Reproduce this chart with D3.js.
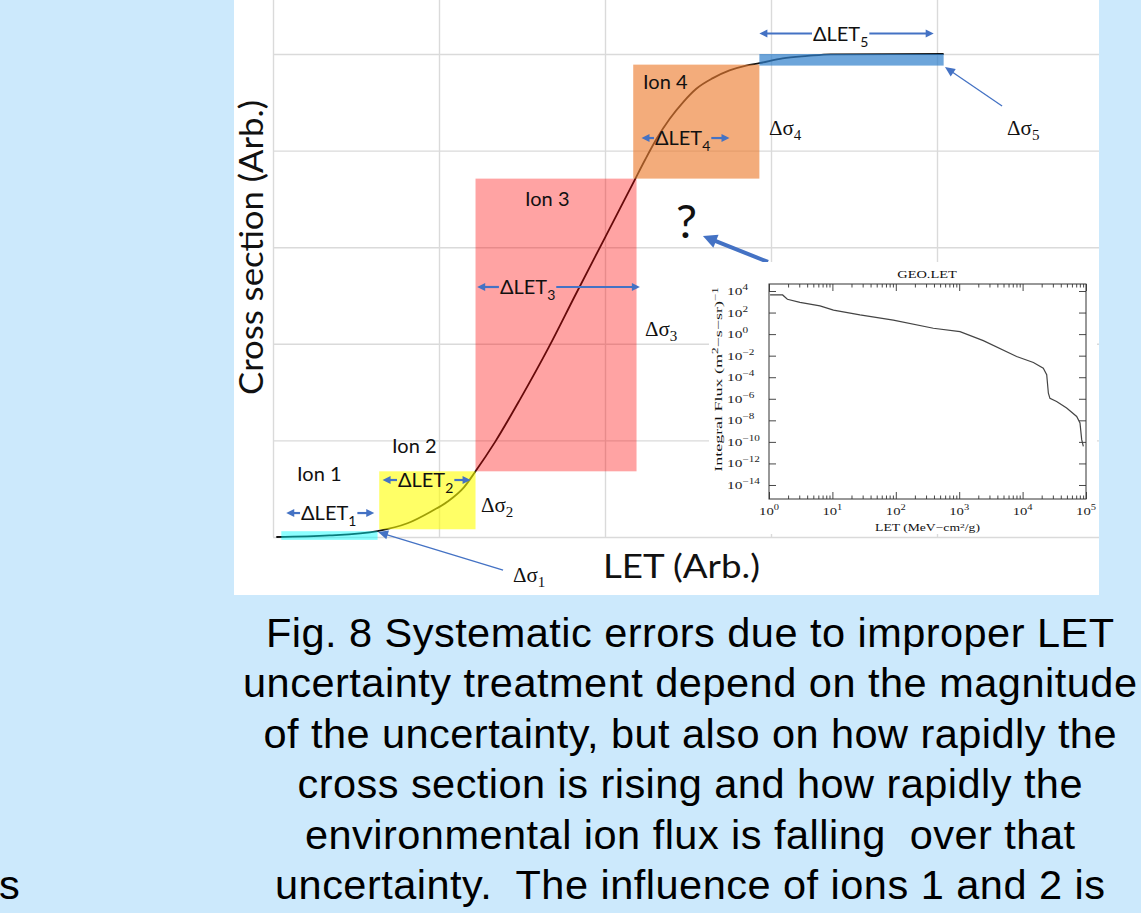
<!DOCTYPE html>
<html>
<head>
<meta charset="utf-8">
<script src="https://cdn.jsdelivr.net/npm/d3@7"></script>
<style>
  html, body { margin: 0; padding: 0; background: #cce9fc; }
  svg { display: block; }
  text { white-space: pre; }
</style>
</head>
<body>
<svg id="fig" width="1141" height="913"></svg>
<script>
// ---------------- data ----------------
// Idealised cross-section vs LET curve (arbitrary units)
const curveLET   = [0.02, 0.34, 0.63, 0.81, 0.95, 1.05, 1.15, 1.22, 1.34, 1.49, 1.66, 1.82, 2.00, 2.18, 2.24, 2.31, 2.39, 2.47, 2.55, 2.65, 2.75, 2.85, 2.93, 3.07, 3.22, 3.36, 4.04];
const curveSigma = [0.00, 0.016, 0.062, 0.142, 0.262, 0.365, 0.514, 0.68, 0.99, 1.43, 1.96, 2.50, 3.10, 3.70, 3.90, 4.12, 4.33, 4.50, 4.64, 4.75, 4.83, 4.88, 4.905, 4.955, 4.98, 4.997, 5.00];

// LET uncertainty band of each ion and the cross-section spread it produces
const bandLETLo   = [0.05, 0.64, 1.22, 2.17, 2.93];
const bandLETHi   = [0.63, 1.22, 2.19, 2.93, 4.04];
const bandSigmaLo = [-0.03, 0.08, 0.68, 3.71, 4.88];
const bandSigmaHi = [0.06, 0.68, 3.71, 4.89, 5.00];

// Extent of each ΔLET arrow
const dLETLo = [0.08, 0.66, 1.23, 2.22, 2.93];
const dLETHi = [0.61, 1.19, 2.21, 2.75, 3.98];

const ionNames = ["Ion 1", "Ion 2", "Ion 3", "Ion 4"];
const gridLET   = [0, 1, 2, 3, 4];
const gridSigma = [0, 1, 2, 3, 4, 5];

// GEO integral LET spectrum (inset)
const geoLET  = [1.04, 1.64, 1.95, 3.08, 6.37, 10.4, 27.2, 91.4, 391, 1030, 2400, 8050, 14800, 21200, 24000, 25500, 27000, 34400, 49500, 71300, 80400, 85500, 90800];
const geoFlux = [4.3e3, 4.3e3, 1.7e3, 8.9e2, 4.1e2, 1.7e2, 6.0e1, 2.0e1, 3.5e0, 1.7e0, 2.5e-1, 8.3e-3, 2.3e-3, 6.9e-4, 1.7e-4, 3.3e-6, 1.1e-6, 5.6e-7, 1.4e-7, 2.3e-8, 5.6e-9, 1.6e-10, 3.8e-11];
const geoTickExpX = [0, 1, 2, 3, 4, 5];
const geoTickExpY = [4, 2, 0, -2, -4, -6, -8, -10, -12, -14];

const captionLines = [
  "Fig. 8 Systematic errors due to improper LET",
  "uncertainty treatment depend on the magnitude",
  "of the uncertainty, but also on how rapidly the",
  "cross section is rising and how rapidly the",
  "environmental ion flux is falling  over that",
  "uncertainty.  The influence of ions 1 and 2 is"
];

// ---------------- styles ----------------
const bandFill    = ["#00ffff", "#ffff00", "#ff0000", "#ed7d31", "#2f7fcb"];
const bandOpacity = [0.45, 0.6, 0.36, 0.64, 0.7];
const BLUE = "#4472c4";
const SANS = "Lato, 'Open Sans', sans-serif";
const SERIF = "'Liberation Serif', 'DejaVu Serif', serif";

const W = 1141, H = 913;
const svg = d3.select("#fig");

svg.append("rect").attr("width", W).attr("height", H).attr("fill", "#cce9fc");
svg.append("rect").attr("x", 234).attr("y", 0).attr("width", 865).attr("height", 595).attr("fill", "#ffffff");

// ---------------- main chart ----------------
const x = d3.scaleLinear().domain([0, 4]).range([273, 937]);
const y = d3.scaleLinear().domain([0, 5]).range([537, 54]);

const plot = svg.append("g");

const gx = plot.append("g").attr("transform", `translate(0,${y(0)})`)
  .call(d3.axisBottom(x).tickValues(gridLET).tickSize(-y(0)).tickFormat(""));
gx.select(".domain").remove();
gx.selectAll("line").attr("stroke", "#dadada").attr("stroke-width", 1.4);

const gy = plot.append("g").attr("transform", `translate(${x(0)},0)`)
  .call(d3.axisLeft(y).tickValues(gridSigma).tickSize(-(1099 - x(0))).tickFormat(""));
gy.select(".domain").remove();
gy.selectAll("line").attr("stroke", "#dadada").attr("stroke-width", 1.4);

// cross-section curve
const line = d3.line().x(d => x(d[0])).y(d => y(d[1])).curve(d3.curveMonotoneX);
plot.append("path")
  .datum(d3.zip(curveLET, curveSigma))
  .attr("d", line)
  .attr("fill", "none")
  .attr("stroke", "#111")
  .attr("stroke-width", 1.8);

// uncertainty bands (semi-transparent, on top of the curve)
plot.selectAll("rect.band")
  .data(d3.range(bandLETLo.length))
  .join("rect")
  .attr("class", "band")
  .attr("x", i => x(bandLETLo[i]))
  .attr("width", i => x(bandLETHi[i]) - x(bandLETLo[i]))
  .attr("y", i => y(bandSigmaHi[i]))
  .attr("height", i => y(bandSigmaLo[i]) - y(bandSigmaHi[i]))
  .attr("fill", i => bandFill[i])
  .attr("fill-opacity", i => bandOpacity[i]);

// ---------------- arrows ----------------
function head(g, tx, ty, fx, fy, len, half, color) {
  const a = Math.atan2(ty - fy, tx - fx);
  const bx = tx - len * Math.cos(a), by = ty - len * Math.sin(a);
  const px = -Math.sin(a) * half, py = Math.cos(a) * half;
  g.append("path")
    .attr("d", `M${tx},${ty}L${bx + px},${by + py}L${bx - px},${by - py}Z`)
    .attr("fill", color);
}
function arrow(g, x1, y1, x2, y2, w, len, half, color) {
  const a = Math.atan2(y2 - y1, x2 - x1);
  g.append("line")
    .attr("x1", x1).attr("y1", y1)
    .attr("x2", x2 - len * 0.7 * Math.cos(a)).attr("y2", y2 - len * 0.7 * Math.sin(a))
    .attr("stroke", color).attr("stroke-width", w);
  head(g, x2, y2, x1, y1, len, half, color);
}

const ann = svg.append("g");

// ΔLET labels with split arrows
const dLETTextLET  = [0.169, 0.753, 1.367, 2.301, 3.253];
const dLETArrowSig = [0.248, 0.590, 2.588, 4.130, 5.212];
d3.range(5).forEach(i => {
  const ya = y(dLETArrowSig[i]);
  const t = ann.append("text")
    .attr("x", x(dLETTextLET[i])).attr("y", ya + 7)
    .attr("font-family", SANS).attr("font-size", 20).attr("fill", "#111");
  t.append("tspan").text("\u0394LET");
  t.append("tspan").attr("dy", 6).attr("font-size", 14).text(String(i + 1));
  const bb = t.node().getBBox();
  arrow(ann, bb.x - 1, ya, x(dLETLo[i]), ya, 2.2, 8, 4, BLUE);
  arrow(ann, bb.x + bb.width + 1, ya, x(dLETHi[i]), ya, 2.2, 8, 4, BLUE);
});

// Ion labels
const ionLabelLET = [0.145, 0.717, 1.518, 2.229];
const ionLabelSig = [0.580, 0.870, 3.427, 4.638];
ionNames.forEach((n, i) => {
  ann.append("text")
    .attr("x", x(ionLabelLET[i])).attr("y", y(ionLabelSig[i]))
    .attr("font-family", SANS).attr("font-size", 20).attr("fill", "#111")
    .text(n);
});

// Δσ labels
const dSigLET = [1.446, 1.253, 2.241, 2.988, 4.422];
const dSigSig = [-0.466, 0.259, 2.081, 4.161, 4.161];
d3.range(5).forEach(i => {
  const t = ann.append("text")
    .attr("x", x(dSigLET[i])).attr("y", y(dSigSig[i]))
    .attr("font-family", SERIF).attr("font-size", 21).attr("fill", "#111");
  t.append("tspan").text("\u0394\u03c3");
  t.append("tspan").attr("dy", 5).attr("font-size", 15).text(String(i + 1));
});

// leader lines to Δσ1 and Δσ5 bands
arrow(ann, x(1.386), y(-0.342), x(0.633), y(0.052), 1.3, 10, 4.5, BLUE);
arrow(ann, x(4.392), y(4.462), x(4.048), y(4.865), 1.3, 10, 4.5, BLUE);

// question mark with thick arrow
ann.append("text")
  .attr("x", x(2.428)).attr("y", y(3.106) + 1)
  .attr("font-family", SANS).attr("font-size", 47).attr("fill", "#111")
  .text("?");
arrow(ann, x(2.982), y(2.847), x(2.590), y(3.116), 4, 14, 7, BLUE);

// axis titles
function fitted(parent, tx, ty, rot, str, font, size, width, anchor) {
  const g = parent.append("g").attr("transform", `translate(${tx},${ty}) rotate(${rot})`);
  const t = g.append("text").attr("font-family", font).attr("font-size", size)
    .attr("text-anchor", anchor || "middle").attr("fill", "#111");
  if (typeof str === "function") str(t); else t.text(str);
  const w = t.node().getBBox().width;
  t.attr("transform", `scale(${width / w},1)`);
  return g;
}
fitted(ann, 263, 247.5, -90, "Cross section (Arb.)", SANS, 33, 295);
fitted(ann, 681.5, 578, 0, "LET (Arb.)", SANS, 32, 157);

// ---------------- inset: GEO LET spectrum ----------------
const inset = svg.append("g");
inset.append("rect").attr("x", 709).attr("y", 262).attr("width", 388).attr("height", 272).attr("fill", "#fff");

const ix = d3.scaleLog().domain([1, 1e5]).range([769, 1086]);
const iy = d3.scaleLog().domain([Math.pow(10, -15.3), Math.pow(10, 4.65)]).range([499, 284]);

const minorX = [];
geoTickExpX.slice(0, -1).forEach(k => { for (let m = 2; m <= 9; m++) minorX.push(m * Math.pow(10, k)); });
const majorX = geoTickExpX.map(k => Math.pow(10, k));
const majorY = geoTickExpY.map(k => Math.pow(10, k));

function ticks(axisGen, tr, vals, size) {
  const g = inset.append("g").attr("transform", tr)
    .call(axisGen.tickValues(vals).tickSize(size).tickFormat(""));
  g.select(".domain").remove();
  g.selectAll("line").attr("stroke", "#333").attr("stroke-width", 0.9);
}
ticks(d3.axisBottom(ix), "translate(0,499)", majorX, -7);
ticks(d3.axisBottom(ix), "translate(0,499)", minorX, -3.5);
ticks(d3.axisTop(ix), "translate(0,284)", majorX, -7);
ticks(d3.axisTop(ix), "translate(0,284)", minorX, -3.5);
ticks(d3.axisLeft(iy), "translate(769,0)", majorY, -7);
ticks(d3.axisRight(iy), "translate(1086,0)", majorY, -7);

inset.append("rect").attr("x", 769).attr("y", 284).attr("width", 1086 - 769).attr("height", 499 - 284)
  .attr("fill", "none").attr("stroke", "#333").attr("stroke-width", 1);

inset.append("path")
  .datum(d3.zip(geoLET, geoFlux))
  .attr("d", d3.line().x(d => ix(d[0])).y(d => iy(d[1])))
  .attr("fill", "none").attr("stroke", "#444").attr("stroke-width", 1.2);

function pow10(t, e, sup) {
  t.append("tspan").text("10");
  t.append("tspan").attr("dy", -5).attr("font-size", sup).text(e < 0 ? "\u2212" + (-e) : String(e));
}
geoTickExpX.forEach(e => {
  const g = inset.append("g").attr("transform", `translate(${ix(Math.pow(10, e))},515)`);
  const t = g.append("text").attr("font-family", SERIF).attr("font-size", 10.5).attr("text-anchor", "middle").attr("fill", "#222");
  pow10(t, e, 7.5);
  t.attr("transform", "scale(1.4,1)");
});
geoTickExpY.forEach(e => {
  const g = inset.append("g").attr("transform", `translate(727,${iy(Math.pow(10, e)) + 4})`);
  const t = g.append("text").attr("font-family", SERIF).attr("font-size", 11).attr("fill", "#222");
  pow10(t, e, 8);
  t.attr("transform", "scale(1.4,1)");
});

fitted(inset, 927, 278, 0, "GEO.LET", SERIF, 11, 60);
fitted(inset, 927.5, 531, 0, t => {
  t.append("tspan").text("LET (MeV\u2212cm");
  t.append("tspan").attr("dy", -3).attr("font-size", 7).text("2");
  t.append("tspan").attr("dy", 3).text("/g)");
}, SERIF, 10, 105);
fitted(inset, 722, 379.5, -90, t => {
  t.append("tspan").text("Integral Flux (m");
  t.append("tspan").attr("dy", -4).attr("font-size", 8).text("2");
  t.append("tspan").attr("dy", 4).text("\u2212s\u2212sr)");
  t.append("tspan").attr("dy", -4).attr("font-size", 8).text("\u22121");
}, SERIF, 11, 185);

// ---------------- caption ----------------
const capWidths = [848, 894, 853, 785, 770, 830];
const capBase = 647, capStep = 50.4;
captionLines.forEach((s, i) => {
  svg.append("text")
    .attr("x", 690).attr("y", capBase + i * capStep)
    .attr("text-anchor", "middle")
    .attr("font-family", "'Liberation Sans', Arial, sans-serif")
    .attr("font-size", 41.5).attr("fill", "#000")
    .attr("textLength", capWidths[i]).attr("lengthAdjust", "spacing")
    .text(s);
});
// edge of the neighbouring text column
svg.append("text").attr("x", -1).attr("y", capBase + 5 * capStep)
  .attr("font-family", "'Liberation Sans', Arial, sans-serif")
  .attr("font-size", 41.5).attr("fill", "#000").text("s");
</script>
</body>
</html>
